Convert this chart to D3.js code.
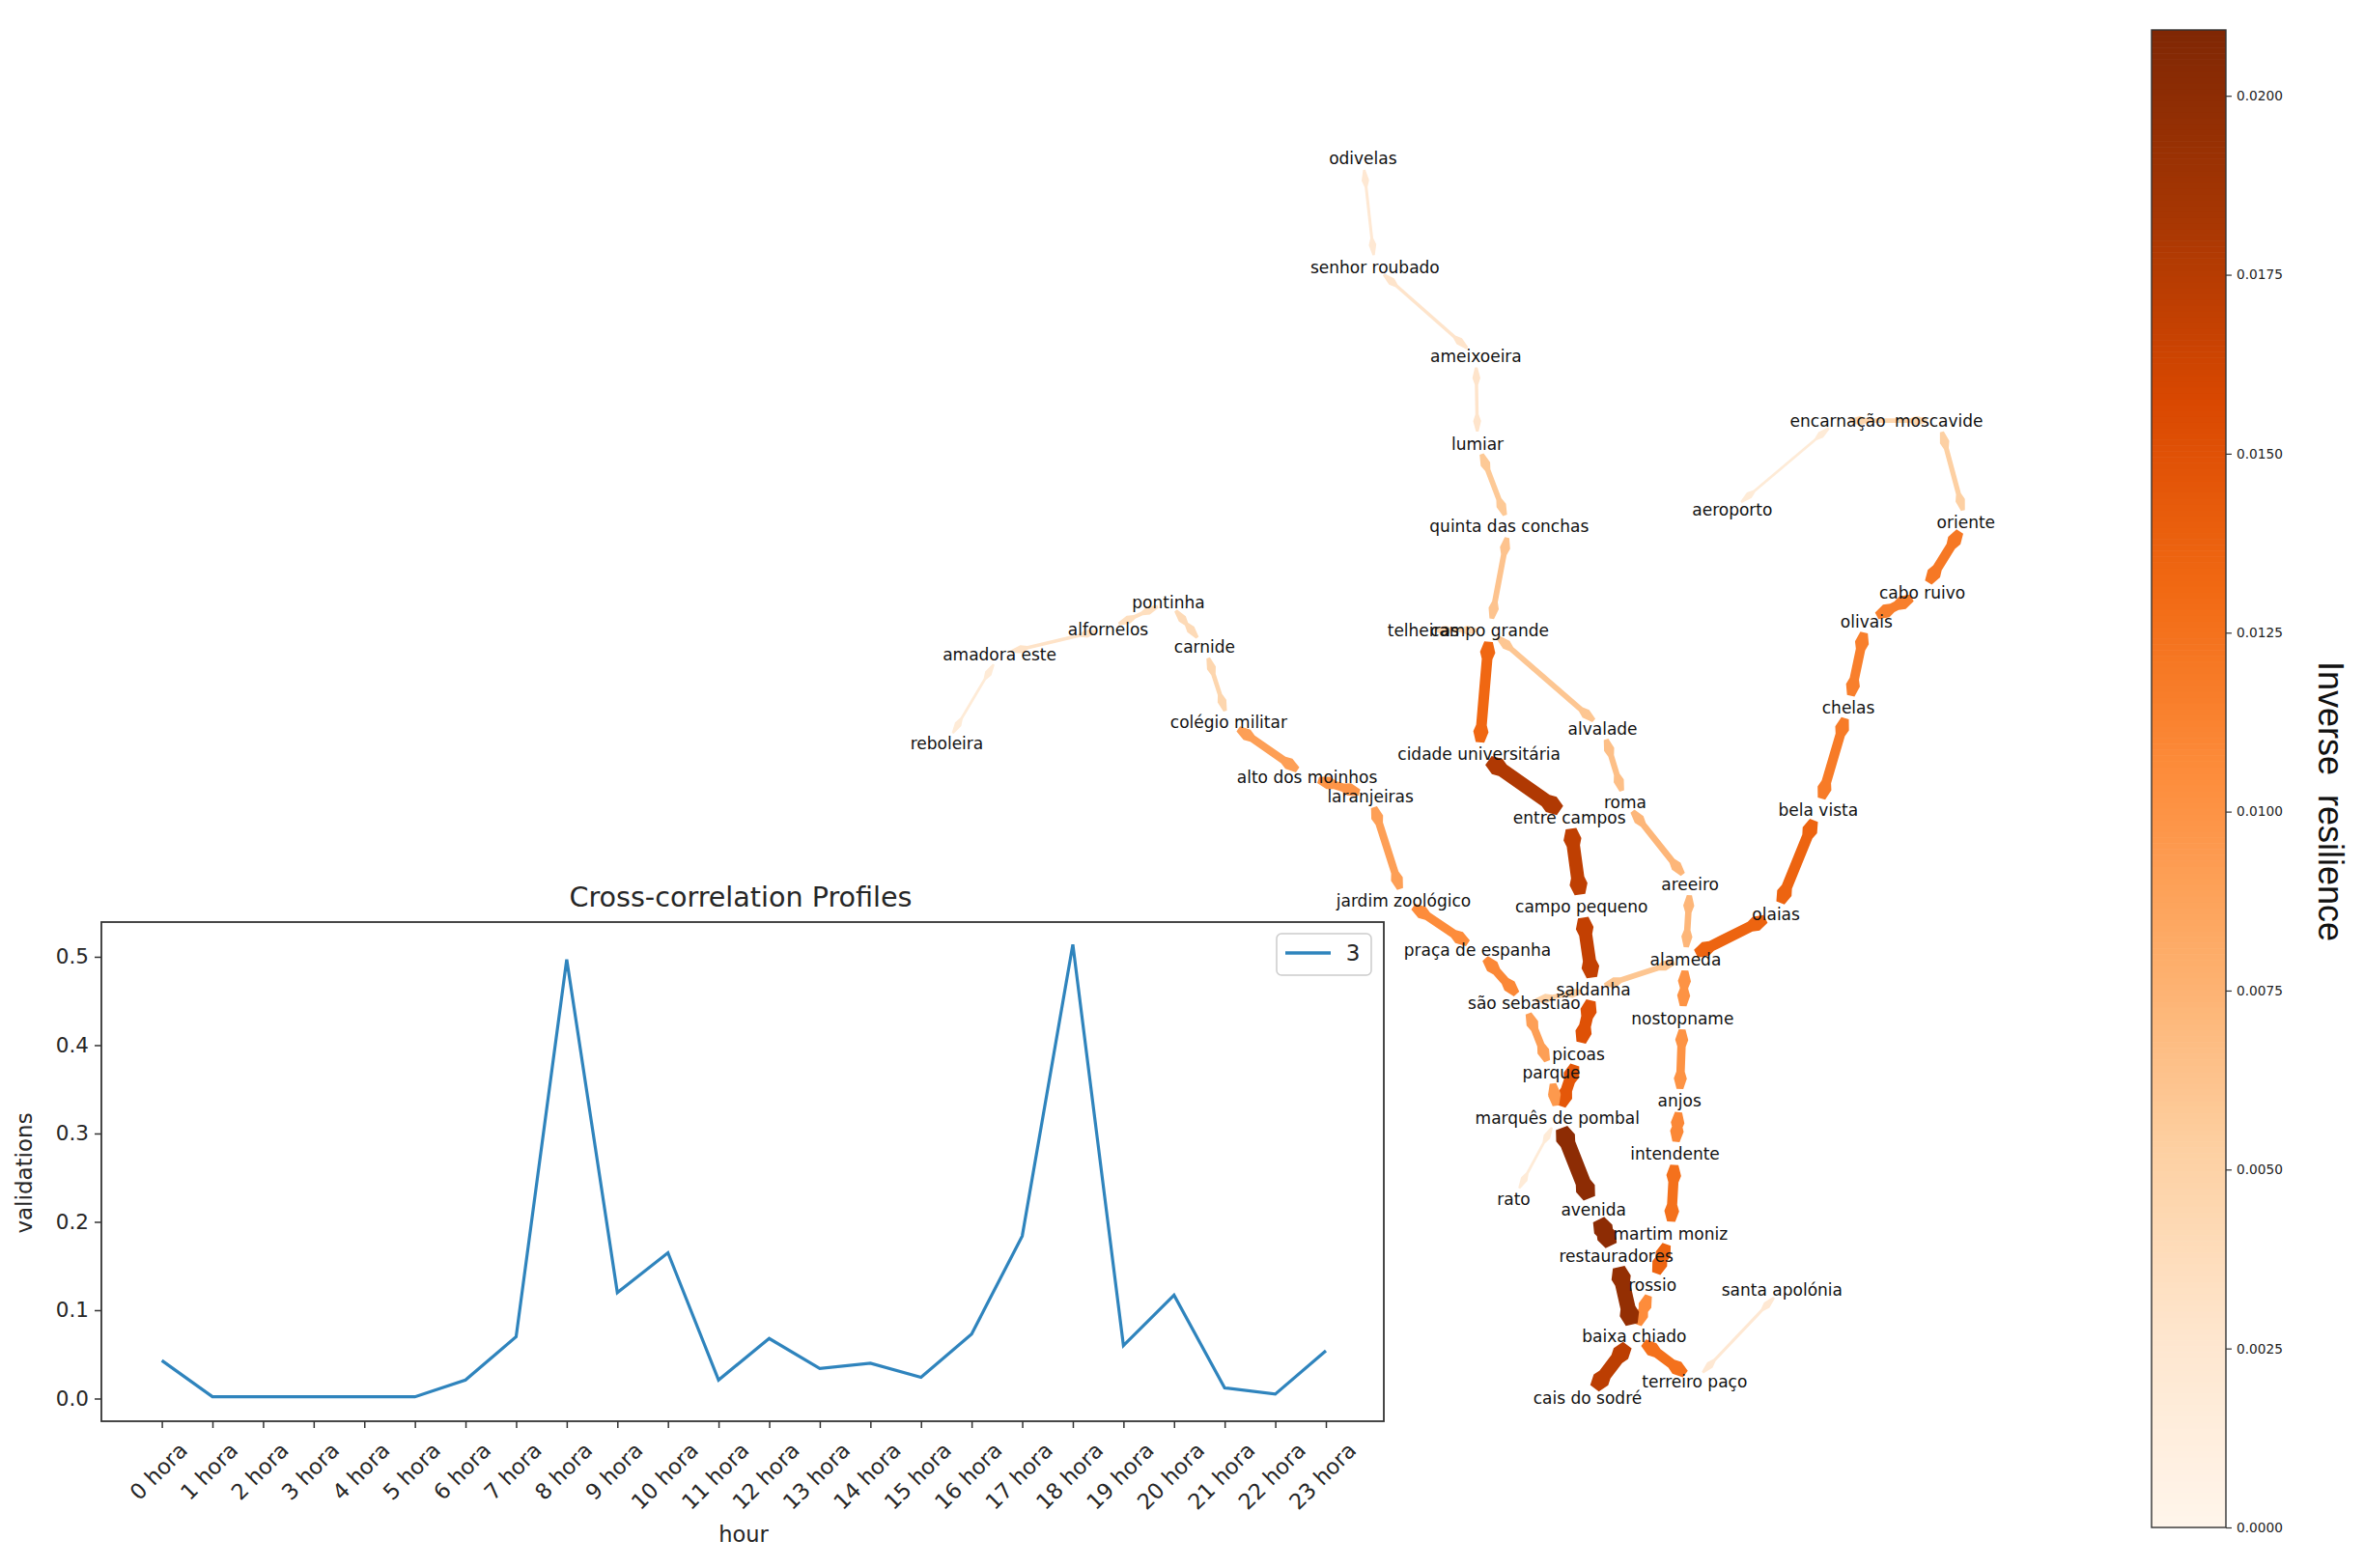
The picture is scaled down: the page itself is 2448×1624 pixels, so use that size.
<!DOCTYPE html>
<html><head><meta charset="utf-8">
<script src="https://cdn.jsdelivr.net/npm/d3@7"></script>
<style>
html,body{margin:0;padding:0;background:#fff}
svg{display:block}
text{font-family:"DejaVu Sans",sans-serif}
</style></head><body>
<svg id="c" width="2448" height="1624"></svg>
<script>
// ---- data: hourly profile
const hours = ["0 hora","1 hora","2 hora","3 hora","4 hora","5 hora","6 hora","7 hora","8 hora","9 hora","10 hora","11 hora","12 hora","13 hora","14 hora","15 hora","16 hora","17 hora","18 hora","19 hora","20 hora","21 hora","22 hora","23 hora"];
const validations = [.043,.002,.002,.002,.002,.002,.021,.07,.497,.12,.165,.021,.068,.034,.04,.024,.073,.184,.514,.06,.117,.012,.005,.054];
const yTicks = [0,.1,.2,.3,.4,.5];
// ---- data: network stations, layout units
const stations = ["odivelas","senhor roubado","ameixoeira","lumiar","quinta das conchas","campo grande","telheiras","cidade universitária","entre campos","campo pequeno","saldanha","picoas","marquês de pombal","parque","são sebastião","praça de espanha","jardim zoológico","laranjeiras","alto dos moinhos","colégio militar","carnide","pontinha","alfornelos","amadora este","reboleira","alvalade","roma","areeiro","alameda","olaias","bela vista","chelas","olivais","cabo ruivo","oriente","moscavide","encarnação","aeroporto","nostopname","anjos","intendente","martim moniz","rossio","baixa chiado","cais do sodré","terreiro paço","santa apolónia","restauradores","avenida","rato"];
const stationX = [904,912,979,980,1001,988,944,981,1041,1049,1057,1047,1033,1029,1011,980,931,909,867,815,799,775,735,663,628,1063,1078,1121,1118,1178,1206,1226,1238,1275,1304,1286,1219,1149,1116,1114,1111,1108,1096,1084,1053,1124,1182,1072,1057,1004];
const stationY = [105,177,236,294,349,418,418,500,542,601,656,699,741,711,665,630,597,528,515,479,429,399,417,434,493,483,532,586,636,606,537,469,412,393,346,279,279,338,675,730,765,818,852,886,927,916,855,833,802,795];
// ---- data: links and their inverse resilience
const edgeFrom = ["odivelas","senhor roubado","ameixoeira","lumiar","quinta das conchas","campo grande","campo grande","alvalade","roma","areeiro","alameda","olaias","bela vista","chelas","olivais","cabo ruivo","oriente","moscavide","encarnação","alameda","saldanha","alameda","nostopname","anjos","intendente","martim moniz","rossio","baixa chiado","terreiro paço","baixa chiado","restauradores","avenida","marquês de pombal","picoas","saldanha","campo pequeno","entre campos","cidade universitária","marquês de pombal","parque","são sebastião","praça de espanha","jardim zoológico","laranjeiras","alto dos moinhos","colégio militar","carnide","pontinha","alfornelos","amadora este","marquês de pombal","telheiras"];
const edgeTo = ["senhor roubado","ameixoeira","lumiar","quinta das conchas","campo grande","cidade universitária","alvalade","roma","areeiro","alameda","olaias","bela vista","chelas","olivais","cabo ruivo","oriente","moscavide","encarnação","aeroporto","saldanha","são sebastião","nostopname","anjos","intendente","martim moniz","rossio","baixa chiado","terreiro paço","santa apolónia","cais do sodré","baixa chiado","restauradores","avenida","marquês de pombal","picoas","saldanha","campo pequeno","entre campos","parque","são sebastião","praça de espanha","jardim zoológico","laranjeiras","alto dos moinhos","colégio militar","carnide","pontinha","alfornelos","amadora este","reboleira","rato","campo grande"];
const edgeValue = [.0022,.0028,.0028,.0058,.0062,.0132,.006,.0065,.0072,.0072,.0135,.0135,.0118,.0115,.0115,.012,.0052,.0045,.0018,.006,.005,.01,.01,.0108,.0125,.0135,.0105,.0125,.0022,.0172,.0195,.02,.02,.0145,.015,.0168,.017,.0178,.0095,.009,.0108,.0105,.009,.0098,.009,.0045,.004,.0035,.003,.0018,.0018,.0042];
const cbTicks = [0,.0025,.005,.0075,.01,.0125,.015,.0175,.02];
const cbMax = .02092;

const svg = d3.select("#c");
const oranges = d3.scaleSequential(d3.piecewise(d3.interpolateRgb, d3.schemeOranges[9])).domain([0,cbMax]);

// ---- network
const px = d3.scaleLinear().domain([0,1568]).range([0,2448]);
const py = d3.scaleLinear().domain([0,1040]).range([0,1624]);
const widthScale = d3.scaleLinear().domain([0,.02]).range([1.4,16]);
const idx = new Map(stations.map((s,i)=>[s,i]));
const gap = 12;
function arrowPath(x1,y1,x2,y2,w){
  const dx=x2-x1, dy=y2-y1, L=Math.hypot(dx,dy), ux=dx/L, uy=dy/L, nx=-uy, ny=ux;
  const pt=(d,o)=>[x1+ux*d+nx*o, y1+uy*d+ny*o];
  const hw=w/2, tip=Math.max(.4,hw*.8), h=hw+2.4, a=Math.min(gap,L/2), b=L-a;
  const p=[pt(a,tip),pt(a+11,h),pt(a+18,hw),pt(b-18,hw),pt(b-11,h),pt(b,tip),
           pt(b,-tip),pt(b-11,-h),pt(b-18,-hw),pt(a+18,-hw),pt(a+11,-h),pt(a,-tip)];
  return d3.line()(p)+"Z";
}
const edges = edgeValue.map((v,i)=>({v,a:idx.get(edgeFrom[i]),b:idx.get(edgeTo[i])}));
svg.append("g").selectAll("path").data(edges).join("path")
  .attr("d",e=>arrowPath(px(stationX[e.a]),py(stationY[e.a]),px(stationX[e.b]),py(stationY[e.b]),widthScale(e.v)))
  .attr("fill",e=>oranges(e.v));
svg.append("g").selectAll("text").data(stations).join("text")
  .attr("x",(d,i)=>px(stationX[i])).attr("y",(d,i)=>py(stationY[i])+.5)
  .attr("text-anchor","middle").attr("dominant-baseline","central")
  .attr("font-size",17).attr("fill","#111").text(d=>d);

// ---- line chart
const L=105,R=1433,T=955,B=1472;
const x = d3.scalePoint().domain(hours).range([167.6,1373]);
const y = d3.scaleLinear().domain([-.0257,.5393]).range([B,T]);
svg.append("rect").attr("x",L).attr("y",T).attr("width",R-L).attr("height",B-T).attr("fill","#fff");
const gx = svg.append("g").attr("transform",`translate(0,${B})`)
  .call(d3.axisBottom(x).tickSize(7).tickPadding(6));
gx.select(".domain").remove();
gx.selectAll("line").attr("stroke","#333").attr("stroke-width",1.5);
gx.selectAll("text").attr("font-size",22.5).attr("fill","#262626").attr("dy",0).attr("y",0)
  .attr("text-anchor","middle").attr("dominant-baseline","central")
  .attr("font-family","DejaVu Sans")
  .each(function(){
    const w=this.getComputedTextLength(), ext=(w+22.5)*Math.SQRT1_2;
    d3.select(this).attr("transform",`translate(-4,${23+ext/2-5}) rotate(-45)`);
  });
const gy = svg.append("g").attr("transform",`translate(${L},0)`)
  .call(d3.axisLeft(y).tickValues(yTicks).tickFormat(d3.format(".1f")).tickSize(7).tickPadding(6));
gy.select(".domain").remove();
gy.selectAll("line").attr("stroke","#333").attr("stroke-width",1.5);
gy.selectAll("text").attr("font-size",21.5).attr("fill","#262626").attr("font-family","DejaVu Sans");
svg.append("rect").attr("x",L).attr("y",T).attr("width",R-L).attr("height",B-T)
  .attr("fill","none").attr("stroke","#333").attr("stroke-width",1.8);
svg.append("path").datum(validations)
  .attr("d",d3.line().x((d,i)=>x(hours[i])).y(d=>y(d)))
  .attr("fill","none").attr("stroke","#2f84bd").attr("stroke-width",3.2);
svg.append("text").attr("x",767).attr("y",939).attr("text-anchor","middle").attr("font-size",28.6).attr("fill","#262626").text("Cross-correlation Profiles");
svg.append("text").attr("x",770).attr("y",1597).attr("text-anchor","middle").attr("font-size",22.5).attr("fill","#262626").text("hour");
svg.append("text").attr("transform","translate(33,1215) rotate(-90)").attr("text-anchor","middle").attr("font-size",23).attr("fill","#262626").text("validations");
// legend
svg.append("rect").attr("x",1322).attr("y",967).attr("width",98).attr("height",43).attr("rx",5)
  .attr("fill","#fff").attr("stroke","#ccc").attr("stroke-width",1.5);
svg.append("line").attr("x1",1331).attr("x2",1378).attr("y1",987).attr("y2",987).attr("stroke","#2f84bd").attr("stroke-width",3.4);
svg.append("text").attr("x",1401).attr("y",995).attr("text-anchor","middle").attr("font-size",23).attr("fill","#262626").text("3");

// ---- colourbar
const cbL=2228,cbR=2305,cbT=31,cbB=1582;
const cy = d3.scaleLinear().domain([0,cbMax]).range([cbB,cbT]);
const steps = d3.range(0,256).map(i=>i/256*cbMax);
svg.append("g").selectAll("rect").data(steps).join("rect")
  .attr("x",cbL).attr("width",cbR-cbL)
  .attr("y",d=>cy(d+cbMax/256)).attr("height",(cbB-cbT)/256+.6)
  .attr("fill",d=>oranges(d));
svg.append("rect").attr("x",cbL).attr("y",cbT).attr("width",cbR-cbL).attr("height",cbB-cbT)
  .attr("fill","none").attr("stroke","#333").attr("stroke-width",1.4);
const gc = svg.append("g").attr("transform",`translate(${cbR},0)`)
  .call(d3.axisRight(cy).tickValues(cbTicks).tickFormat(d3.format(".4f")).tickSize(6).tickPadding(5));
gc.select(".domain").remove();
gc.selectAll("line").attr("stroke","#333").attr("stroke-width",1.2);
gc.selectAll("text").attr("font-size",13.7).attr("fill","#222").attr("font-family","DejaVu Sans");
svg.append("text").attr("transform","translate(2401,830) rotate(90)").attr("text-anchor","middle")
  .attr("font-size",36).attr("fill","#111").style("font-family","'Liberation Sans',Arial,sans-serif")
  .style("white-space","pre").text("Inverse  resilience");
</script>
</body></html>
